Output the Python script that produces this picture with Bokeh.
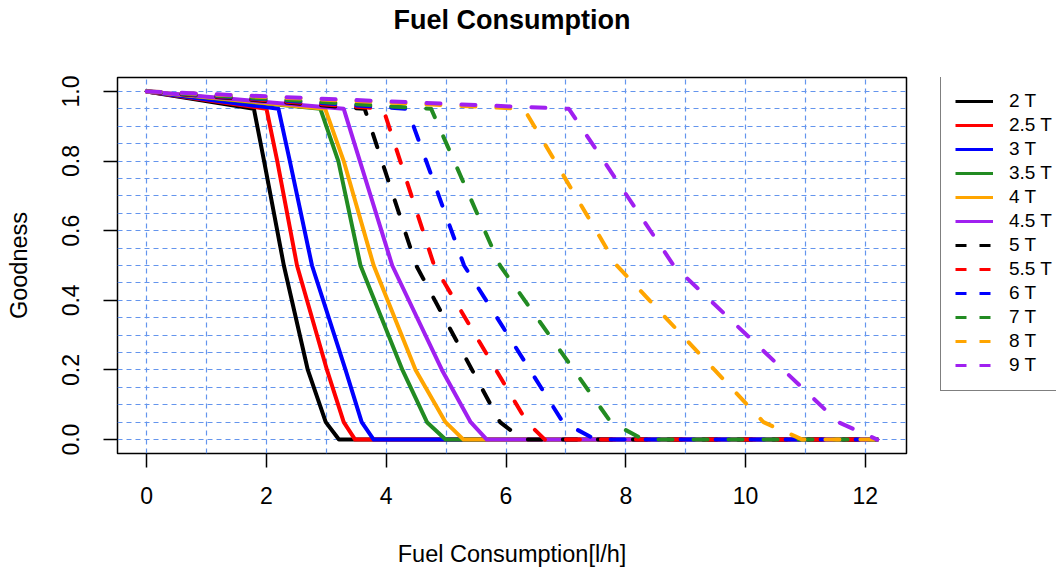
from bokeh.plotting import figure
from bokeh.models import Range1d, FixedTicker, Legend, LegendItem, PrintfTickFormatter, Title
from bokeh.layouts import row
from bokeh.embed import file_html
from bokeh.resources import INLINE

FONT = "Liberation Sans"
NAN = float("nan")

# ---- data ----
labels = ["2 T", "2.5 T", "3 T", "3.5 T", "4 T", "4.5 T",
          "5 T", "5.5 T", "6 T", "7 T", "8 T", "9 T"]
colors = ["black", "red", "blue", "#228B22", "#FFA500", "#A020F0",
          "black", "red", "blue", "#228B22", "#FFA500", "#A020F0"]
dashed = [False] * 6 + [True] * 6

x_2T = [0, 1.79, 1.96, 2.29, 2.69, 2.99, 3.21, 12.2]
y_2T = [1, 0.95, 0.80, 0.50, 0.20, 0.05, 0.0, 0.0]
x_25T = [0, 2.00, 2.18, 2.51, 3.01, 3.29, 3.48, 12.2]
y_25T = [1, 0.95, 0.80, 0.50, 0.20, 0.05, 0.0, 0.0]
x_3T = [0, 2.20, 2.39, 2.76, 3.32, 3.59, 3.79, 12.2]
y_3T = [1, 0.95, 0.80, 0.50, 0.20, 0.05, 0.0, 0.0]
x_35T = [0, 2.90, 3.20, 3.57, 4.27, 4.68, 4.99, 12.2]
y_35T = [1, 0.95, 0.80, 0.50, 0.20, 0.05, 0.0, 0.0]
x_4T = [0, 2.98, 3.29, 3.79, 4.49, 4.99, 5.29, 12.2]
y_4T = [1, 0.95, 0.80, 0.50, 0.20, 0.05, 0.0, 0.0]
x_45T = [0, 3.29, 3.56, 4.10, 4.93, 5.41, 5.68, 12.2]
y_45T = [1, 0.95, 0.80, 0.50, 0.20, 0.05, 0.0, 0.0]

x_5T = [0, 3.64, 4.50, 5.90, 6.28, 12.2]
y_5T = [1, 0.95, 0.50, 0.05, 0.0, 0.0]
x_55T = [0, 3.95, 4.80, 6.35, 6.65, 12.2]
y_55T = [1, 0.95, 0.50, 0.05, 0.0, 0.0]
x_6T = [0, 4.35, 5.30, 6.95, 7.50, 12.2]
y_6T = [1, 0.95, 0.50, 0.05, 0.0, 0.0]
x_7T = [0, 4.75, 5.90, 7.75, 8.30, 12.2]
y_7T = [1, 0.95, 0.50, 0.05, 0.0, 0.0]
x_8T = [0, 6.30, 7.85, 10.30, 10.95, 12.2]
y_8T = [1, 0.95, 0.50, 0.05, 0.0, 0.0]
x_9T = [0, 7.05, 8.80, 11.55, 12.2]
y_9T = [1, 0.95, 0.50, 0.05, 0.0]

xs = [x_2T, x_25T, x_3T, x_35T, x_4T, x_45T, x_5T, x_55T, x_6T, x_7T, x_8T, x_9T]
ys = [y_2T, y_25T, y_3T, y_35T, y_4T, y_45T, y_5T, y_55T, y_6T, y_7T, y_8T, y_9T]

x_ticks = [0, 2, 4, 6, 8, 10, 12]
y_ticks = [0.0, 0.2, 0.4, 0.6, 0.8, 1.0]
x_grid = [0, 1, 2, 3, 4, 5, 6, 7, 8, 9, 10, 11, 12]
y_grid = [0.0, 0.05, 0.1, 0.15, 0.2, 0.25, 0.3, 0.35, 0.4, 0.45, 0.5,
          0.55, 0.6, 0.65, 0.7, 0.75, 0.8, 0.85, 0.9, 0.95, 1.0]

# ---- main figure ----
p = figure(width=937, height=573, output_backend="svg", toolbar_location=None,
           x_range=Range1d(-0.488, 12.688), y_range=Range1d(-0.04, 1.04),
           min_border_left=117, min_border_right=31, min_border_bottom=120,
           min_border_top=77)

p.title.text = "Fuel Consumption"
p.title.align = "center"
p.title.text_font = FONT
p.title.text_font_size = "27px"
p.title.text_font_style = "bold"
p.title.text_color = "black"
p.title.standoff = 0
# spacer between the title and the frame
p.add_layout(Title(text=" ", text_font_size="10px", standoff=30), "above")

p.outline_line_color = "black"
p.outline_line_width = 1.5
p.background_fill_color = "white"
p.border_fill_color = "white"

for ax in (p.xaxis[0], p.yaxis[0]):
    ax.axis_line_color = None
    ax.major_tick_out = 14
    ax.major_tick_in = 0
    ax.major_tick_line_width = 1.5
    ax.major_tick_line_color = "black"
    ax.minor_tick_line_color = None
    ax.major_label_text_font = FONT
    ax.major_label_text_font_size = "23px"
    ax.major_label_text_color = "black"
    ax.axis_label_text_font = FONT
    ax.axis_label_text_font_size = "23.5px"
    ax.axis_label_text_font_style = "normal"
    ax.axis_label_text_color = "black"

p.xaxis.ticker = FixedTicker(ticks=x_ticks)
p.yaxis.ticker = FixedTicker(ticks=y_ticks)
p.yaxis.formatter = PrintfTickFormatter(format="%.1f")
p.yaxis.major_label_orientation = "vertical"
p.xaxis.axis_label = "Fuel Consumption[l/h]"
p.yaxis.axis_label = "Goodness"
p.xaxis.major_label_standoff = 19
p.yaxis.major_label_standoff = 24
p.xaxis.axis_label_standoff = 34
p.yaxis.axis_label_standoff = 28

p.xgrid.ticker = FixedTicker(ticks=x_grid)
p.ygrid.ticker = FixedTicker(ticks=y_grid)
for g in (p.xgrid[0], p.ygrid[0]):
    g.grid_line_color = "#6495ED"
    g.grid_line_dash = "5 4"
    g.grid_line_width = 1.2

for x, y, c, d in zip(xs, ys, colors, dashed):
    p.line(x, y, line_color=c, line_width=4,
           line_dash="14 21" if d else "solid",
           line_cap="round", line_join="round")

# ---- legend panel (separate figure to the right) ----
lf = figure(width=119, height=573, output_backend="svg", toolbar_location=None,
            x_range=Range1d(0, 1), y_range=Range1d(0, 1),
            x_axis_location=None, y_axis_location=None,
            min_border=0, min_border_left=0, min_border_right=0,
            min_border_top=0, min_border_bottom=0)
lf.outline_line_color = None
lf.xgrid.visible = False
lf.ygrid.visible = False
lf.background_fill_color = "white"
lf.border_fill_color = "white"

items = []
for lab, c, d in zip(labels, colors, dashed):
    r = lf.line(x=[NAN, NAN], y=[NAN, NAN], line_color=c, line_width=3,
                line_dash="11 13" if d else "solid")
    items.append(LegendItem(label=lab, renderers=[r]))

legend = Legend(items=items, location=(3, 62),
                glyph_width=38, glyph_height=20, label_height=20, spacing=2,
                padding=14, margin=0, label_standoff=16,
                label_text_font=FONT, label_text_font_size="19px",
                label_text_color="black",
                border_line_color="black", border_line_width=1.5,
                background_fill_color="white", background_fill_alpha=1.0)
lf.add_layout(legend)

layout = row(p, lf)
open("out.html", "w").write(file_html(layout, INLINE))
